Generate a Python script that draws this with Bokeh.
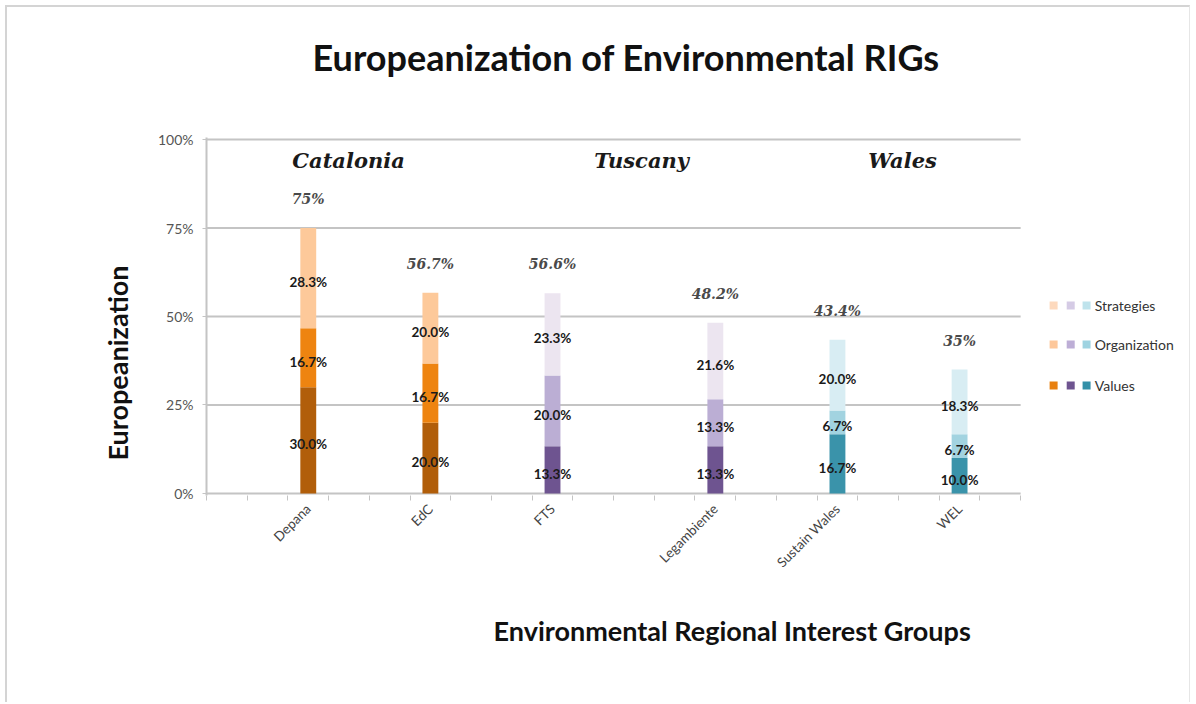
import math
from bokeh.plotting import figure
from bokeh.models import (ColumnDataSource, FixedTicker, Range1d, Title)
from bokeh.core.properties import value
from bokeh.embed import file_html
from bokeh.resources import INLINE

# ---------------- data ----------------
slots = ["", "", "Depana", "", "", "EdC", "", "", "FTS", "", "", "",
         "Legambiente", "", "", "Sustain Wales", "", "", "WEL", ""]
groups = ["Depana", "EdC", "FTS", "Legambiente", "Sustain Wales", "WEL"]
values_pct = [30.0, 20.0, 13.3, 13.3, 16.7, 10.0]
organization_pct = [16.7, 16.7, 20.0, 13.3, 6.7, 6.7]
strategies_pct = [28.3, 20.0, 23.3, 21.6, 20.0, 18.3]
total_labels = ["75%", "56.7%", "56.6%", "48.2%", "43.4%", "35%"]
regions = ["Catalonia", "Tuscany", "Wales"]
group_region = ["Catalonia", "Catalonia", "Tuscany", "Tuscany", "Wales", "Wales"]
y_ticks = [0, 25, 50, 75, 100]
legend_labels = ["Strategies", "Organization", "Values"]

# ---------------- styles ----------------
region_colors = {
    "Catalonia": {"Values": "#B15E0A", "Organization": "#EE8410", "Strategies": "#FDC99A"},
    "Tuscany": {"Values": "#6E5490", "Organization": "#BBAED4", "Strategies": "#ECE5F0"},
    "Wales": {"Values": "#3A93AA", "Organization": "#A2D3E0", "Strategies": "#D8EDF3"},
}
legend_colors = {
    "Strategies": ["#FDD9BD", "#D5CBE5", "#BFE3EC"],
    "Organization": ["#FDC79A", "#BDAED6", "#9FD3E1"],
    "Values": ["#E8800F", "#6E5490", "#3390A8"],
}
SANS = "Lato"
SERIF = "DejaVu Serif"
GRID = "#c4c4c4"
N_SLOTS = len(slots)
X_END = 24.05

# positions derived from the slot list
xpos = [slots.index(g) + 0.5 for g in groups]
b1 = [0.0] * len(groups)
t1 = values_pct
b2 = t1
t2 = [a + b for a, b in zip(t1, organization_pct)]
b3 = t2
t3 = [a + b for a, b in zip(t2, strategies_pct)]

p = figure(width=1185, height=697, output_backend="svg", toolbar_location=None,
           title=None,
           x_range=Range1d(0, X_END), y_range=Range1d(-0.6, 100.6),
           min_border_left=199, min_border_top=130, min_border_bottom=209,
           min_border_right=7, margin=(5, 0, 0, 5),
           styles={"border-top": "2px solid #d4d4d4", "border-left": "2px solid #d4d4d4",
                   "border-right": "1px solid #e6e6e6"})
p.outline_line_color = None
p.xgrid.visible = False
p.ygrid.visible = False
p.background_fill_color = "white"
p.border_fill_color = "white"

# manual gridlines across category area only
p.segment(x0=[0] * len(y_ticks), x1=[N_SLOTS] * len(y_ticks), y0=y_ticks, y1=y_ticks,
          line_color=GRID, line_width=2)

# stacked bars
for name, bot, top in [("Values", b1, t1), ("Organization", b2, t2), ("Strategies", b3, t3)]:
    src = ColumnDataSource(dict(x=xpos, bottom=bot, top=top,
                                color=[region_colors[r][name] for r in group_region]))
    p.vbar(x="x", bottom="bottom", top="top", width=0.39, fill_color="color",
           line_color=None, source=src)

# segment labels
seg_x, seg_y, seg_t = [], [], []
for vals, bot, top in [(values_pct, b1, t1), (organization_pct, b2, t2), (strategies_pct, b3, t3)]:
    for x, v, b, t in zip(xpos, vals, bot, top):
        seg_x.append(x)
        seg_y.append((b + t) / 2)
        seg_t.append(f"{v:.1f}%")
p.text(x=seg_x, y=seg_y, text=seg_t, text_align="center", text_baseline="middle",
       y_offset=4, text_font=value(SANS), text_font_style="bold", text_font_size="13.5px",
       text_color="#1a1a1a")

# totals
p.text(x=xpos, y=t3, text=total_labels, text_align="center", text_baseline="middle",
       y_offset=-29, text_font=value(SERIF), text_font_style="bold italic",
       text_font_size="14px", text_color="#4a4a4a")

# region labels
region_x = [3.49, 10.69, 17.1]
p.text(x=region_x, y=[94.1] * 3, text=regions, text_align="center", text_baseline="middle",
       text_font=value(SERIF), text_font_style="bold italic", text_font_size="21px",
       text_color="#1a1a1a")

# legend (manual)
leg_x = [20.81, 21.23, 21.62]
leg_y = [53.1, 42.1, 30.5]
for lab, ly in zip(legend_labels, leg_y):
    p.scatter(x=leg_x, y=[ly] * 3, marker="square", size=8, fill_color=legend_colors[lab],
              line_color=None)
p.text(x=[21.82] * 3, y=leg_y, text=legend_labels, text_align="left", text_baseline="middle",
       text_font=value(SANS), text_font_size="14px", text_color="#333333")

# axes
p.xaxis.ticker = FixedTicker(ticks=xpos, minor_ticks=list(range(N_SLOTS + 1)))
p.xaxis.major_label_overrides = {x: g for x, g in zip(xpos, groups)}
p.xaxis.major_label_orientation = math.pi / 4
p.xaxis.major_tick_out = 0
p.xaxis.major_tick_in = 0
p.xaxis.minor_tick_out = 5
p.xaxis.minor_tick_in = 0
p.xaxis.minor_tick_line_color = GRID
p.xaxis.axis_line_color = None
p.xaxis.major_label_text_font = SANS
p.xaxis.major_label_text_font_size = "13.5px"
p.xaxis.major_label_text_color = "#444444"
p.xaxis.major_label_standoff = 6

p.yaxis.ticker = FixedTicker(ticks=y_ticks)
p.yaxis.major_label_overrides = {t: f"{t}%" for t in y_ticks}
p.yaxis.axis_line_color = GRID
p.yaxis.axis_line_width = 2
p.yaxis.major_tick_line_color = GRID
p.yaxis.major_tick_out = 4
p.yaxis.major_tick_in = 0
p.yaxis.minor_tick_line_color = None
p.yaxis.major_label_text_font = SANS
p.yaxis.major_label_text_font_size = "14px"
p.yaxis.major_label_text_color = "#555555"
p.yaxis.major_label_standoff = 9

# title: spacer panel next to the frame, then the main title above it
p.add_layout(Title(text=" ", text_font_size="10px", standoff=41), "above")
p.add_layout(Title(text="Europeanization of Environmental RIGs", align="left", offset=106,
                   standoff=10, text_font=SANS, text_font_style="bold",
                   text_font_size="36px", text_color="#111111"), "above")

p.add_layout(Title(text="Environmental Regional Interest Groups", align="left", offset=287,
                   standoff=64, text_font=SANS, text_font_style="bold",
                   text_font_size="27px", text_color="#111111"), "below")
p.add_layout(Title(text="Europeanization", align="left", offset=35, standoff=41,
                   text_font=SANS, text_font_style="bold", text_font_size="27px",
                   text_color="#111111"), "left")

open("out.html", "w").write(file_html(p, INLINE))
